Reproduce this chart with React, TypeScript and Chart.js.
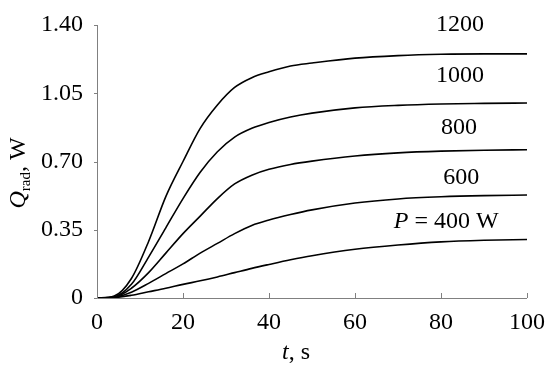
import React, { useEffect, useRef } from "react";
import { Chart, registerables } from "chart.js";
Chart.register(...registerables);

const times = [0, 4, 8, 12, 16, 20, 24, 28, 32, 36, 40, 45, 50, 60, 70, 80, 90, 100];
const q1200 = [0, 0.01, 0.1, 0.29, 0.52, 0.7, 0.87, 0.99, 1.08, 1.13, 1.16, 1.19, 1.205, 1.23, 1.243, 1.25, 1.252, 1.252];
const q1000 = [0, 0.006, 0.07, 0.21, 0.36, 0.51, 0.645, 0.75, 0.825, 0.87, 0.9, 0.928, 0.948, 0.975, 0.988, 0.995, 0.998, 1.0];
const q800 = [0, 0.004, 0.05, 0.13, 0.23, 0.33, 0.42, 0.51, 0.585, 0.63, 0.66, 0.685, 0.702, 0.728, 0.744, 0.753, 0.758, 0.76];
const q600 = [0, 0.003, 0.03, 0.075, 0.125, 0.175, 0.23, 0.28, 0.33, 0.372, 0.4, 0.428, 0.452, 0.487, 0.508, 0.519, 0.525, 0.528];
const q400 = [0, 0.002, 0.014, 0.032, 0.05, 0.07, 0.088, 0.108, 0.13, 0.152, 0.172, 0.196, 0.217, 0.25, 0.272, 0.288, 0.296, 0.3];
const seriesList = [q400, q600, q800, q1000, q1200];

const labelTexts = ["1200", "1000", "800", "600", "400 W"];
const labelT = [84.4, 84.4, 84.2, 84.7, 81.2];
const labelQ = [1.4, 1.138, 0.872, 0.615, 0.39];

const yTicks = [0, 0.35, 0.7, 1.05, 1.4];
const xTicks = [0, 20, 40, 60, 80, 100];

const FONT = "'Liberation Serif', 'Times New Roman', serif";
const FS = 24;
const AXIS = "#808080";

const overlay = {
  id: "overlay",
  afterDraw(chart: any) {
    const { ctx, scales } = chart;
    const x = scales.x;
    const y = scales.y;
    const left = x.left;
    const bottom = y.bottom;
    ctx.save();
    // axes
    ctx.strokeStyle = AXIS;
    ctx.lineWidth = 1;
    ctx.beginPath();
    ctx.moveTo(Math.round(left) + 0.5, y.top);
    ctx.lineTo(Math.round(left) + 0.5, Math.round(bottom) + 0.5);
    ctx.lineTo(x.right, Math.round(bottom) + 0.5);
    ctx.stroke();
    // y ticks outward
    ctx.beginPath();
    yTicks.forEach((v) => {
      const py = Math.round(y.getPixelForValue(v)) + 0.5;
      ctx.moveTo(left - 3, py);
      ctx.lineTo(left, py);
    });
    // x ticks inward
    xTicks.forEach((v) => {
      const px = Math.round(x.getPixelForValue(v)) + 0.5;
      ctx.moveTo(px, bottom);
      ctx.lineTo(px, bottom - 5);
    });
    ctx.stroke();

    // curve labels
    ctx.fillStyle = "#000";
    ctx.textBaseline = "middle";
    labelTexts.forEach((t, i) => {
      const px = x.getPixelForValue(labelT[i]);
      const py = y.getPixelForValue(labelQ[i]);
      if (i === 4) {
        const pre = "P";
        const mid = " = ";
        ctx.font = `${FS}px ${FONT}`;
        const wMid = ctx.measureText(mid).width;
        const wRest = ctx.measureText(t).width;
        ctx.font = `italic ${FS}px ${FONT}`;
        const wP = ctx.measureText(pre).width;
        const total = wP + wMid + wRest;
        let sx = px - total / 2;
        ctx.textAlign = "left";
        ctx.fillText(pre, sx, py);
        sx += wP;
        ctx.font = `${FS}px ${FONT}`;
        ctx.fillText(mid, sx, py);
        sx += wMid;
        ctx.fillText(t, sx, py);
      } else {
        ctx.font = `${FS}px ${FONT}`;
        ctx.textAlign = "center";
        ctx.fillText(t, px, py);
      }
    });

    // x title
    ctx.textBaseline = "alphabetic";
    ctx.textAlign = "left";
    ctx.font = `italic ${FS}px ${FONT}`;
    const wt = ctx.measureText("t").width;
    ctx.font = `${FS}px ${FONT}`;
    const ws = ctx.measureText(", s").width;
    const tx = 296 - (wt + ws) / 2;
    ctx.font = `italic ${FS}px ${FONT}`;
    ctx.fillText("t", tx, 359);
    ctx.font = `${FS}px ${FONT}`;
    ctx.fillText(", s", tx + wt, 359);

    // y title rotated
    ctx.translate(25, 173);
    ctx.rotate(-Math.PI / 2);
    ctx.font = `italic ${FS}px ${FONT}`;
    const wQ = ctx.measureText("Q").width;
    ctx.font = `15px ${FONT}`;
    const wr = ctx.measureText("rad").width;
    ctx.font = `${FS}px ${FONT}`;
    const wW = ctx.measureText(", W").width;
    let yx = -(wQ + wr + wW) / 2;
    ctx.font = `italic ${FS}px ${FONT}`;
    ctx.fillText("Q", yx, 0);
    yx += wQ;
    ctx.font = `15px ${FONT}`;
    ctx.fillText("rad", yx, 5);
    yx += wr;
    ctx.font = `${FS}px ${FONT}`;
    ctx.fillText(", W", yx, 0);
    ctx.restore();
  },
};

export default function App() {
  const ref = useRef<HTMLCanvasElement>(null);
  useEffect(() => {
    if (!ref.current) return;
    const chart = new Chart(ref.current, {
      type: "line",
      data: {
        datasets: seriesList.map((s) => ({
          data: s.map((v, i) => ({ x: times[i], y: v })),
          borderColor: "#000",
          borderWidth: 1.6,
          pointRadius: 0,
          fill: false,
          cubicInterpolationMode: "monotone" as const,
        })),
      },
      options: {
        animation: false,
        responsive: false,
        maintainAspectRatio: false,
        layout: { padding: { top: 25, right: 23, left: 0, bottom: 0 } },
        plugins: { legend: { display: false }, tooltip: { enabled: false } },
        scales: {
          x: {
            type: "linear",
            min: 0,
            max: 100,
            afterBuildTicks: (s: any) => {
              s.ticks = xTicks.map((v) => ({ value: v }));
            },
            afterFit: (s: any) => {
              s.height = 72;
              s.paddingLeft = 0;
              s.paddingRight = 0;
            },
            grid: { display: false, drawTicks: false },
            border: { display: false },
            ticks: {
              color: "#000",
              font: { family: FONT, size: FS },
              padding: 10,
              maxRotation: 0,
              callback: (v: any) => String(v),
            },
          },
          y: {
            type: "linear",
            min: 0,
            max: 1.4,
            afterBuildTicks: (s: any) => {
              s.ticks = yTicks.map((v) => ({ value: v }));
            },
            afterFit: (s: any) => {
              s.width = 97;
              s.paddingTop = 0;
              s.paddingBottom = 0;
            },
            grid: { display: false, drawTicks: false },
            border: { display: false },
            ticks: {
              color: "#000",
              font: { family: FONT, size: FS },
              padding: 14,
              callback: (v: any) => (Number(v) === 0 ? "0" : Number(v).toFixed(2)),
            },
          },
        },
      },
      plugins: [overlay],
    });
    return () => chart.destroy();
  }, []);
  return (
    <div style={{ position: "fixed", left: 0, top: 0, width: 550, height: 370, background: "#fff" }}>
      <canvas ref={ref} width={550} height={370} style={{ width: 550, height: 370 }} />
    </div>
  );
}
